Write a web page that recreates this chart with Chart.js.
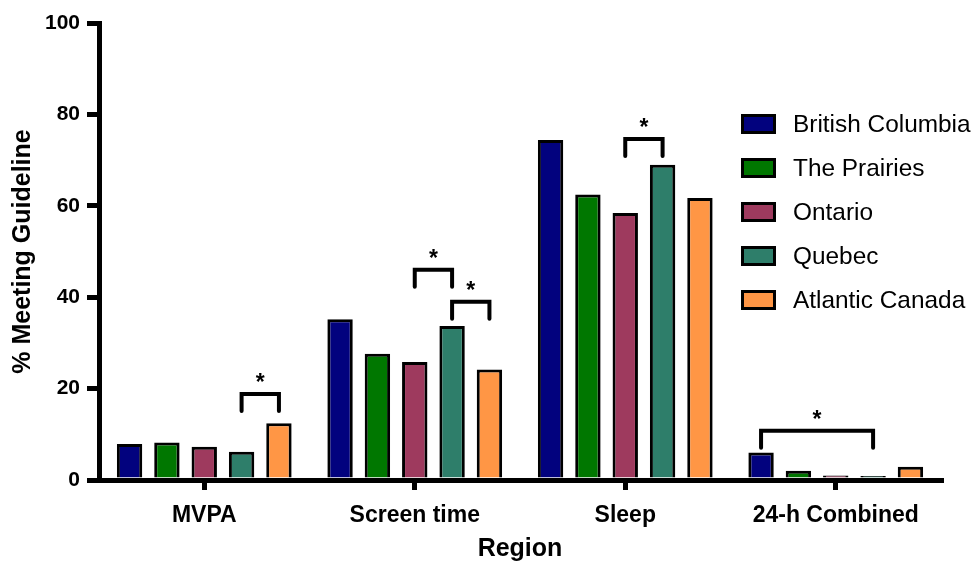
<!DOCTYPE html>
<html>
<head>
<meta charset="utf-8">
<script src="https://cdn.jsdelivr.net/npm/chart.js@4.4.1/dist/chart.umd.min.js"></script>
<style>
  html, body { margin: 0; padding: 0; background: #fff; }
  #wrap { position: relative; width: 974px; height: 562px; overflow: hidden; }
  #c { position: absolute; left: 0; top: 0; }
  #legend { position: absolute; left: 741px; top: 102px; font-family: 'Liberation Sans', Arial, sans-serif; font-size: 24.4px; color: #000; }
  .row { display: flex; align-items: center; height: 44px; white-space: nowrap; }
  .box { width: 35px; height: 20px; box-sizing: border-box; border: 3px solid #000; margin-right: 17px; }
</style>
</head>
<body>
<div id="wrap">
  <canvas id="c" width="974" height="562"></canvas>
  <div id="legend"></div>
</div>
<script>
// ---- data ----
const categories = ['MVPA', 'Screen time', 'Sleep', '24-h Combined'];
const regions = ['British Columbia', 'The Prairies', 'Ontario', 'Quebec', 'Atlantic Canada'];
const britishColumbia = [7.9, 35.2, 74.4, 6.0];
const thePrairies     = [8.2, 27.6, 62.5, 2.0];
const ontario         = [7.3, 25.8, 58.4, 1.0];
const quebec          = [6.2, 33.7, 69.0, 0.9];
const atlanticCanada  = [12.4, 24.2, 61.7, 2.9];
const yTicks = [0, 20, 40, 60, 80, 100];
// significance brackets: category index, from region index, to region index, bracket level (%)
const bracketCategory = [0, 1, 1, 2, 3];
const bracketFrom     = [3, 2, 3, 2, 0];
const bracketTo       = [4, 3, 4, 3, 3];
const bracketLevel    = [18.8, 46.0, 39.0, 74.6, 10.8];
const bracketLabel    = ['*', '*', '*', '*', '*'];

// ---- styles ----
const colors = ['#02027E', '#007700', '#9E3A5E', '#2E7E6A', '#FF9645'];
const FONT = "'Liberation Sans', Arial, sans-serif";
Chart.defaults.font.family = FONT;
Chart.defaults.color = '#000';

const seriesValues = [britishColumbia, thePrairies, ontario, quebec, atlanticCanada];
const datasets = regions.map((name, i) => ({
  label: name,
  data: seriesValues[i],
  backgroundColor: colors[i],
  borderColor: '#000',
  borderWidth: 3,
  borderSkipped: 'bottom',
  categoryPercentage: 0.887,
  barPercentage: 0.68
}));

const bracketPlugin = {
  id: 'brackets',
  afterDatasetsDraw(chart) {
    const ctx = chart.ctx;
    const y = chart.scales.y;
    const legPx = 17;
    ctx.save();
    ctx.strokeStyle = '#000';
    ctx.lineWidth = 4;
    ctx.lineCap = 'round';
    ctx.lineJoin = 'miter';
    for (let k = 0; k < bracketCategory.length; k++) {
      const c = bracketCategory[k];
      const x1 = chart.getDatasetMeta(bracketFrom[k]).data[c].x;
      const x2 = chart.getDatasetMeta(bracketTo[k]).data[c].x;
      const yt = y.getPixelForValue(bracketLevel[k]);
      ctx.beginPath();
      ctx.moveTo(x1, yt + legPx);
      ctx.lineTo(x1, yt);
      ctx.lineTo(x2, yt);
      ctx.lineTo(x2, yt + legPx);
      ctx.stroke();
      ctx.fillStyle = '#000';
      ctx.font = 'bold 23px ' + FONT;
      ctx.textAlign = 'center';
      ctx.textBaseline = 'alphabetic';
      ctx.fillText(bracketLabel[k], (x1 + x2) / 2, yt - 4);
    }
    ctx.restore();
  }
};

new Chart(document.getElementById('c'), {
  type: 'bar',
  data: { labels: categories, datasets },
  plugins: [bracketPlugin],
  options: {
    responsive: false,
    animation: false,
    devicePixelRatio: 1,
    layout: { padding: { top: 23, right: 33, bottom: 0, left: 0 } },
    plugins: { legend: { display: false }, tooltip: { enabled: false } },
    scales: {
      x: {
        grid: { display: true, drawOnChartArea: false, drawTicks: true, tickLength: 10, lineWidth: 5, color: '#000', offset: false },
        border: { display: true, color: '#000', width: 5 },
        ticks: { color: '#000', font: { size: 23, weight: 'bold' }, padding: 12, maxRotation: 0 },
        title: { display: true, text: 'Region', color: '#000', font: { size: 25, weight: 'bold', lineHeight: 1.0 }, padding: { top: 0, bottom: 0 } },
        afterFit(s) { s.height = 82; }
      },
      y: {
        min: 0, max: 100,
        afterBuildTicks(s) { s.ticks = yTicks.map(v => ({ value: v })); },
        grid: { display: true, drawOnChartArea: false, drawTicks: true, tickLength: 12, lineWidth: 5, color: '#000' },
        border: { display: true, color: '#000', width: 5 },
        ticks: { color: '#000', font: { size: 21, weight: 'bold' }, padding: 7 },
        title: { display: true, text: '% Meeting Guideline', color: '#000', font: { size: 25, weight: 'bold', lineHeight: 1.2 }, padding: { top: 8, bottom: 0 } },
        afterFit(s) { s.width = 99; }
      }
    }
  }
});

// HTML legend built from the series
const legend = document.getElementById('legend');
regions.forEach((name, i) => {
  const row = document.createElement('div');
  row.className = 'row';
  const box = document.createElement('span');
  box.className = 'box';
  box.style.background = colors[i];
  const txt = document.createElement('span');
  txt.textContent = name;
  row.appendChild(box);
  row.appendChild(txt);
  legend.appendChild(row);
});
</script>
</body>
</html>
